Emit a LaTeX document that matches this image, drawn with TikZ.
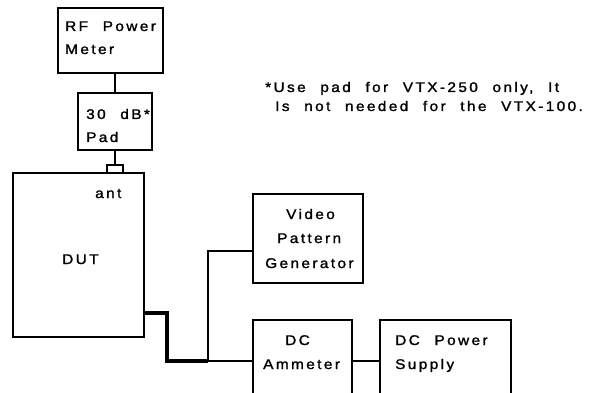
\documentclass[tikz,border=0pt]{standalone}
\usepackage{fontspec}
\newfontfamily\lbl{Liberation Sans}[LetterSpace=17,WordSpace=2.2,FakeStretch=1.1,FakeBold=1.5]
\begin{document}
\begin{tikzpicture}[x=1pt,y=-1pt,
  box/.style={draw,line width=1.6pt,inner sep=0pt},
  wire/.style={line width=1.2pt},
  cable/.style={line width=4pt},
  txt/.style={anchor=base west,inner sep=0pt,font=\lbl\fontsize{14}{16}\selectfont},
  note/.style={anchor=base west,inner sep=0pt,font=\lbl\fontsize{14}{16}\selectfont}]
\useasboundingbox (0,0) rectangle (589,393);
\clip (0,0) rectangle (589,393);
% boxes
\node[box,minimum width=105pt,minimum height=65pt] (meter) at (110.5,40.5) {};
\node[box,minimum width=74pt,minimum height=57pt] (pad) at (115,121.5) {};
\node[draw,line width=1.2pt,minimum width=16pt,minimum height=8pt,inner sep=0pt] (conn) at (115,169) {};
\node[box,line width=2pt,minimum width=131pt,minimum height=164pt] (dut) at (78.5,255) {};
\node[box,minimum width=110pt,minimum height=89pt] (vpg) at (308,238.5) {};
\node[box,minimum width=99pt,minimum height=80pt] (amm) at (302.5,360) {};
\node[box,minimum width=131pt,minimum height=80pt] (ps) at (445.5,360) {};
% coordinates
\coordinate (c1) at (167,313);
\coordinate (c2) at (167,361);
\coordinate (j) at (208,361);
\coordinate (j2) at (208,251);
% connectors
\draw[wire] (pad.north) -- (pad.north |- meter.south);
\draw[wire] (pad.south) -- (conn.north);
\draw[cable] (dut.east |- c1) -- (c1) -- (c2) -- (j);
\draw[wire] (j) -- (amm.west |- j);
\draw[wire] (j) -- (j2) -- (vpg.west |- j2);
\draw[wire] (amm.east |- j) -- (ps.west |- j);
% text
\node[txt] (t1) at (65,31) {RF Power};
\node[txt] (t2) at (65,54) {Meter};
\node[txt] (t3) at (86,119) {30 dB*};
\node[txt] (t4) at (86,142) {Pad};
\node[txt] (t5) at (95,198) {ant};
\node[txt] (t6) at (62,264) {DUT};
\node[txt] (t7) at (286,219) {Video};
\node[txt] (t8) at (277,243) {Pattern};
\node[txt] (t9) at (265,268) {Generator};
\node[txt] (t10) at (285,345) {DC};
\node[txt] (t11) at (263,369) {Ammeter};
\node[txt] (t12) at (395,345) {DC Power};
\node[txt] (t13) at (395,369) {Supply};
\node[note] (n1) at (265,92) {*Use pad for VTX-250 only, It};
\node[note] (n2) at (275,111) {Is not needed for the VTX-100.};
\end{tikzpicture}
\end{document}
